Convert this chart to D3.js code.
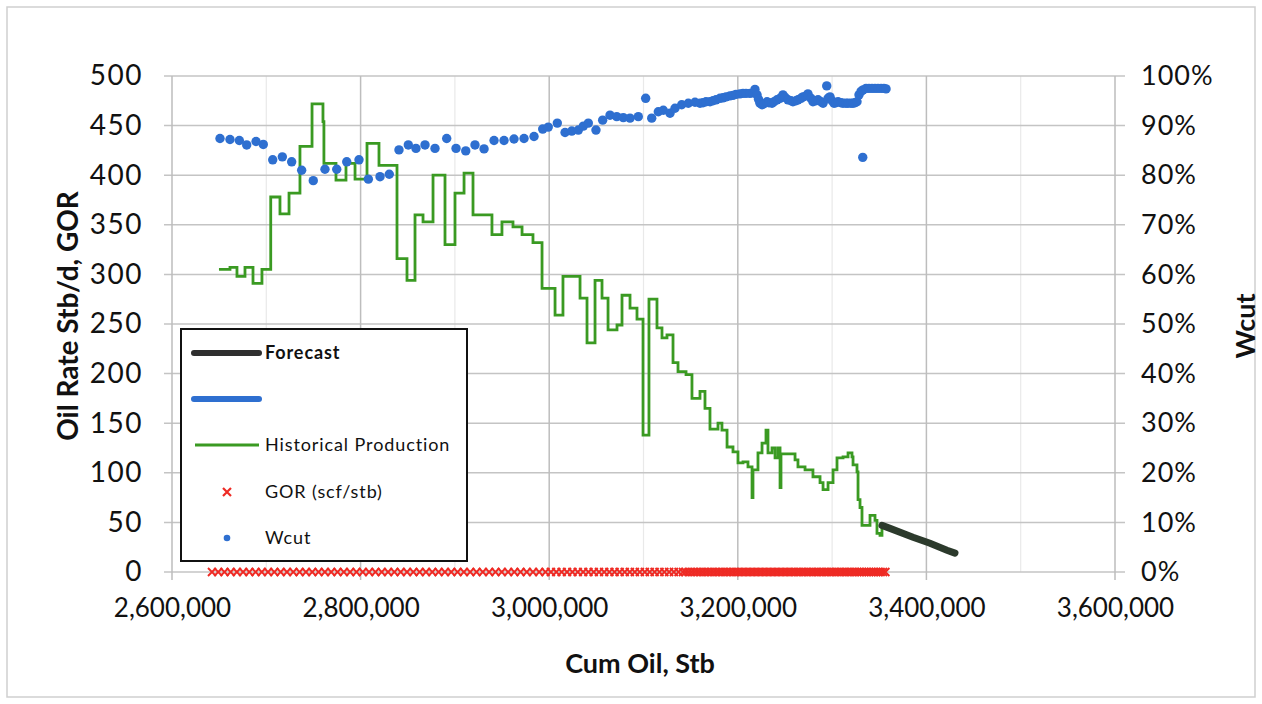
<!DOCTYPE html>
<html><head><meta charset="utf-8">
<script src="https://cdn.jsdelivr.net/npm/d3@7"></script>
<style>
body{margin:0;background:#fff;}
text{font-family:Lato,"Open Sans",sans-serif;}
</style></head>
<body><svg id="chart" width="1262" height="704"></svg>
<script>
// ---------------- DATA ----------------
const xTicks = [2600000, 2800000, 3000000, 3200000, 3400000, 3600000];
const xMinorTicks = [2700000, 2900000, 3100000, 3300000, 3500000];
const yTicks = [0, 50, 100, 150, 200, 250, 300, 350, 400, 450, 500];
const y2Ticks = [0, 0.1, 0.2, 0.3, 0.4, 0.5, 0.6, 0.7, 0.8, 0.9, 1.0];

// Historical production (step: rate starting at cum)
const oilCum = [2649800,2661500,2668900,2677400,2685900,2695400,2704700,2714500,2724100,2735700,
  2748500,2760100,2761100,2773900,2784500,2794100,2806800,2819500,2838600,2849200,2857700,2866200,
  2876800,2889500,2900100,2909700,2919200,2939300,2949900,2961600,2971200,2982800,2992400,3006200,
  3014600,3032700,3040100,3048600,3056000,3062400,3071900,3077200,3085700,3093100,3099500,3105800,
  3114300,3119600,3124900,3131300,3136600,3145100,3151400,3159900,3165200,3170500,3179000,3183200,
  3188600,3194900,3200200,3205500,3210800,3215100,3216100,3221400,3225700,3229900,3232000,3236300,
  3239500,3242600,3244800,3245800,3252200,3260700,3263800,3271300,3279700,3287200,3290400,3295700,
  3301000,3305200,3311600,3316900,3321100,3322200,3326400,3327500,3329600,3331700,3337000,3340200,
  3345500,3347600,3350800,3352900];
const oilRate = [305,307,298,307,291,305,378,361,382,429,
  472,454,412,395,412,396,432,410,316,294,360,353,
  400,330,382,402,360,340,353,348,340,332,286,259,
  298,276,231,294,276,244,249,279,266,255,138,275,
  246,236,239,211,202,199,175,182,165,144,150,143,
  126,121,110,111,106,75,103,120,130,143,120,125,
  115,125,85,119,119,113,106,103,96,90,83,90,
  103,115,116,120,116,108,101,73,65,47,47,57,
  52,39,37,47];

// Forecast
const fcCum = [3352900, 3361400, 3385800, 3403800, 3421800, 3430300];
const fcRate = [47, 44, 35, 29, 22, 19];

// Water cut
const wcCum = [2650900,2661500,2671400,2679200,2689100,2696800,2706800,2717000,2726900,2737500,
  2749800,2762200,2774700,2785300,2798300,2808200,2820600,2830400,2840700,2850600,2858700,2868300,
  2878900,2891300,2901200,2911500,2921300,2930900,2941500,2952100,2962700,2973300,2983900,2993100,
  2999000,3008600,3016800,3023900,3030900,3036200,3041500,3049600,3056700,3064500,3071600,3078600,
  3085700,3094500,3102300,3108700,3115700,3121000,3128100,3133400,3140500,3147500,3154600,
  3159900,3163100,3166300,3170500,3173700,3176900,3181100,3184300,3187500,3191700,3194900,3198100,
  3202300,3205500,3208700,3212900,3216100,3218200,3220400,3222000,3223500,3225700,3227800,3231000,
  3233100,3236300,3238400,3241600,3244800,3247900,3250100,3253200,3256400,3258500,3261700,3263800,
  3267000,3269100,3272300,3274400,3277600,3279700,3282900,3285100,3288200,3290400,3294300,3295700,
  3297800,3299900,3302000,3304100,3306300,3309400,3311600,3314700,3316900,3320000,3322200,3324300,
  3326400,3328500,3330700,3332500,3332800,3336000,3339100,3342300,3345500,3348700,3351900,3355000,
  3357200];
const wcValue = [0.874,0.872,0.870,0.861,0.868,0.862,0.831,0.837,0.827,0.810,
  0.789,0.812,0.812,0.827,0.831,0.792,0.797,0.802,0.851,0.861,0.854,0.861,
  0.854,0.874,0.854,0.849,0.861,0.853,0.870,0.870,0.873,0.874,0.878,0.893,
  0.897,0.905,0.886,0.889,0.891,0.899,0.905,0.891,0.911,0.921,0.918,0.916,
  0.915,0.918,0.955,0.915,0.928,0.931,0.925,0.935,0.942,0.945,0.947,
  0.945,0.946,0.948,0.948,0.950,0.952,0.955,0.956,0.958,0.960,0.961,0.963,
  0.964,0.965,0.965,0.965,0.966,0.973,0.962,0.953,0.945,0.942,0.944,0.948,
  0.946,0.945,0.948,0.952,0.955,0.962,0.957,0.952,0.950,0.948,0.950,0.952,
  0.955,0.958,0.960,0.964,0.955,0.948,0.950,0.952,0.948,0.945,0.980,0.955,
  0.958,0.950,0.945,0.946,0.948,0.946,0.945,0.945,0.945,0.945,0.945,0.946,
  0.948,0.962,0.969,0.836,0.972,0.975,0.975,0.975,0.975,0.975,0.975,0.975,
  0.974];

// GOR (scf/stb)
const gorCum = [2642400,2649000,2655600,2662200,2668800,2675400,2682000,2688600,2695200,2701800,
  2708500,2715200,2721900,2728600,2735300,2742000,2748700,2755400,2762100,2768800,2775500,2782200,
  2788900,2795600,2802300,2809000,2815700,2822400,2829100,2835800,2842500,2849200,2855900,2862600,
  2869300,2876000,2882700,2889400,2896100,2902800,2909500,2916200,2922900,2929600,2936300,2943000,
  2949700,2956400,2963000,2969600,2976200,2982800,2989400,2996000,
  3001800,3007500,3013200,3018900,3024600,3030300,3036000,3041600,3047200,3052800,3058300,3063800,
  3069300,3074700,3080100,3085500,3090800,3096100,3101400,3106600,3111800,3117000,3122100,3127200,
  3132200,3137200,
  3141800,3144800,3147800,3150800,3153800,3156800,3159700,3162600,3165500,3168400,3171300,3174200,
  3177100,3180000,3182900,3185800,3188700,3191600,3194500,3197400,3200300,3203100,3205900,3208700,
  3211500,3214300,3217100,3219900,3222700,3225500,3228300,3231100,3233900,3236700,3239500,3242300,
  3245100,3247900,3250700,3253500,3256300,3259000,3261700,3264400,3267100,3269800,3272500,3275200,
  3277900,3280600,3283300,3286000,3288700,3291400,3294100,3296800,3299500,3302200,3304900,3307600,
  3310300,3313000,3315700,3318400,3321100,3323800,3326500,3329000,3331500,3334000,3336500,3339000,
  3341500,3344000,3346500,3349000,3351500,3354000,3356500];
const gorValue = [0,0,0,0,0,0,0,0,0,0, 0,0,0,0,0,0,0,0,0,0, 0,0,0,0,0,0,0,0,0,0,
  0,0,0,0,0,0,0,0,0,0, 0,0,0,0,0,0,0,0,0,0, 0,0,0,0,
  0,0,0,0,0,0,0,0,0,0, 0,0,0,0,0,0,0,0,0,0, 0,0,0,0,0,0,
  0,0,0,0,0,0,0,0,0,0, 0,0,0,0,0,0,0,0,0,0, 0,0,0,0,0,0,0,0,0,0,
  0,0,0,0,0,0,0,0,0,0, 0,0,0,0,0,0,0,0,0,0, 0,0,0,0,0,0,0,0,0,0,
  0,0,0,0,0,0,0,0,0,0, 0,0,0,0,0,0,0,0,0,0, 0,0,0,0,0,0,0,0,0];

const legendItems = ["Forecast", "", "Historical Production", "GOR (scf/stb)", "Wcut"];

// ---------------- CHART ----------------
const svg = d3.select("#chart");
const L = 172, R = 1115, T = 76, B = 572;
const x = d3.scaleLinear().domain([2600000, 3600000]).range([L, R]);
const y = d3.scaleLinear().domain([0, 500]).range([B, T]);
const y2 = d3.scaleLinear().domain([0, 1]).range([B, T]);

const GREEN = "#3a9a22", BLUE = "#2e6fd0", RED = "#ee2a24", DARK = "#2c3a2c", INK = "#111";

svg.append("rect").attr("x", 7).attr("y", 7).attr("width", 1248).attr("height", 690)
  .attr("fill", "#fff").attr("stroke", "#cfcfcf").attr("stroke-width", 1.5);

// minor vertical grid
svg.append("g").selectAll("line").data(xMinorTicks).join("line")
  .attr("x1", d => x(d)).attr("x2", d => x(d)).attr("y1", T).attr("y2", B)
  .attr("stroke", "#e9e9e9").attr("stroke-width", 1.2);
// horizontal grid
svg.append("g").selectAll("line").data(yTicks).join("line")
  .attr("x1", L - 8).attr("x2", R + 10).attr("y1", d => y(d)).attr("y2", d => y(d))
  .attr("stroke", "#c4c4c4").attr("stroke-width", 1.5);
// major vertical grid
svg.append("g").selectAll("line").data(xTicks).join("line")
  .attr("x1", d => x(d)).attr("x2", d => x(d)).attr("y1", T).attr("y2", B + 8)
  .attr("stroke", "#bdbdbd").attr("stroke-width", 1.5);

// axes (labels only; lines are drawn above as grid)
const xAxis = svg.append("g").attr("transform", `translate(0,${B})`)
  .call(d3.axisBottom(x).tickValues(xTicks).tickFormat(d3.format(",")).tickSize(0).tickPadding(27));
const yAxis = svg.append("g").attr("transform", `translate(${L},0)`)
  .call(d3.axisLeft(y).tickValues(yTicks).tickSize(0).tickPadding(29));
const y2Axis = svg.append("g").attr("transform", `translate(${R},0)`)
  .call(d3.axisRight(y2).tickValues(y2Ticks).tickFormat(d3.format(".0%")).tickSize(0).tickPadding(26));
[[xAxis, 26, 0], [yAxis, 28, 1.5], [y2Axis, 27, 1]].forEach(([g, fs, ls]) => {
  g.select(".domain").remove();
  g.selectAll("text").attr("font-size", fs).attr("fill", INK).attr("letter-spacing", ls)
    .attr("font-family", "Lato, sans-serif");
});

// axis titles
svg.append("text").attr("x", 640).attr("y", 673).attr("text-anchor", "middle")
  .attr("font-size", 27).attr("font-weight", "bold").attr("fill", INK).text("Cum Oil, Stb");
svg.append("text").attr("transform", "translate(78,316) rotate(-90)").attr("text-anchor", "middle")
  .attr("font-size", 28).attr("font-weight", "bold").attr("fill", INK).text("Oil Rate Stb/d, GOR");
svg.append("text").attr("transform", "translate(1255,326) rotate(-90)").attr("text-anchor", "middle")
  .attr("font-size", 27).attr("font-weight", "bold").attr("fill", INK).text("Wcut");

// GOR crosses
const xs = 4;
const gor = svg.append("g");
gorCum.forEach((c, i) => {
  const cx = x(c), cy = y(gorValue[i]);
  gor.append("path").attr("d", `M${cx - xs},${cy - xs}L${cx + xs},${cy + xs}M${cx - xs},${cy + xs}L${cx + xs},${cy - xs}`)
    .attr("stroke", RED).attr("stroke-width", 1.9).attr("fill", "none");
});

// Historical production
const oilData = oilCum.map((c, i) => [c, oilRate[i]]);
oilData.push([fcCum[0], fcRate[0]]);
svg.append("path").datum(oilData)
  .attr("d", d3.line().x(d => x(d[0])).y(d => y(d[1])).curve(d3.curveStepAfter))
  .attr("fill", "none").attr("stroke", GREEN).attr("stroke-width", 2.8);

// Forecast
svg.append("path").datum(fcCum.map((c, i) => [c, fcRate[i]]))
  .attr("d", d3.line().x(d => x(d[0])).y(d => y(d[1])))
  .attr("fill", "none").attr("stroke", DARK).attr("stroke-width", 7).attr("stroke-linecap", "round");

// Wcut
svg.append("g").selectAll("circle").data(wcCum.map((c, i) => [c, wcValue[i]])).join("circle")
  .attr("cx", d => x(d[0])).attr("cy", d => y2(d[1])).attr("r", 4.7)
  .attr("fill", BLUE);

// Legend
const lg = svg.append("g");
lg.append("rect").attr("x", 181).attr("y", 329).attr("width", 286).attr("height", 232)
  .attr("fill", "#fff").attr("stroke", "#111").attr("stroke-width", 2);
const rowY = [353, 399, 445, 492, 538];
lg.append("line").attr("x1", 194).attr("x2", 259).attr("y1", rowY[0]).attr("y2", rowY[0])
  .attr("stroke", "#2f2f2f").attr("stroke-width", 6).attr("stroke-linecap", "round");
lg.append("line").attr("x1", 194).attr("x2", 259).attr("y1", rowY[1]).attr("y2", rowY[1])
  .attr("stroke", BLUE).attr("stroke-width", 6).attr("stroke-linecap", "round");
lg.append("line").attr("x1", 195).attr("x2", 259).attr("y1", rowY[2]).attr("y2", rowY[2])
  .attr("stroke", GREEN).attr("stroke-width", 2.8);
lg.append("path").attr("d", `M${227 - 4},${rowY[3] - 4}L${227 + 4},${rowY[3] + 4}M${227 - 4},${rowY[3] + 4}L${227 + 4},${rowY[3] - 4}`)
  .attr("stroke", RED).attr("stroke-width", 2.2);
lg.append("circle").attr("cx", 227).attr("cy", rowY[4]).attr("r", 3.3).attr("fill", BLUE);
legendItems.forEach((t, i) => {
  lg.append("text").attr("x", 265).attr("y", rowY[i]).attr("dy", "0.35em")
    .attr("font-size", 18).attr("letter-spacing", 0.9).attr("fill", INK)
    .attr("font-weight", i === 0 ? "bold" : "normal").text(t);
});
</script></body></html>
